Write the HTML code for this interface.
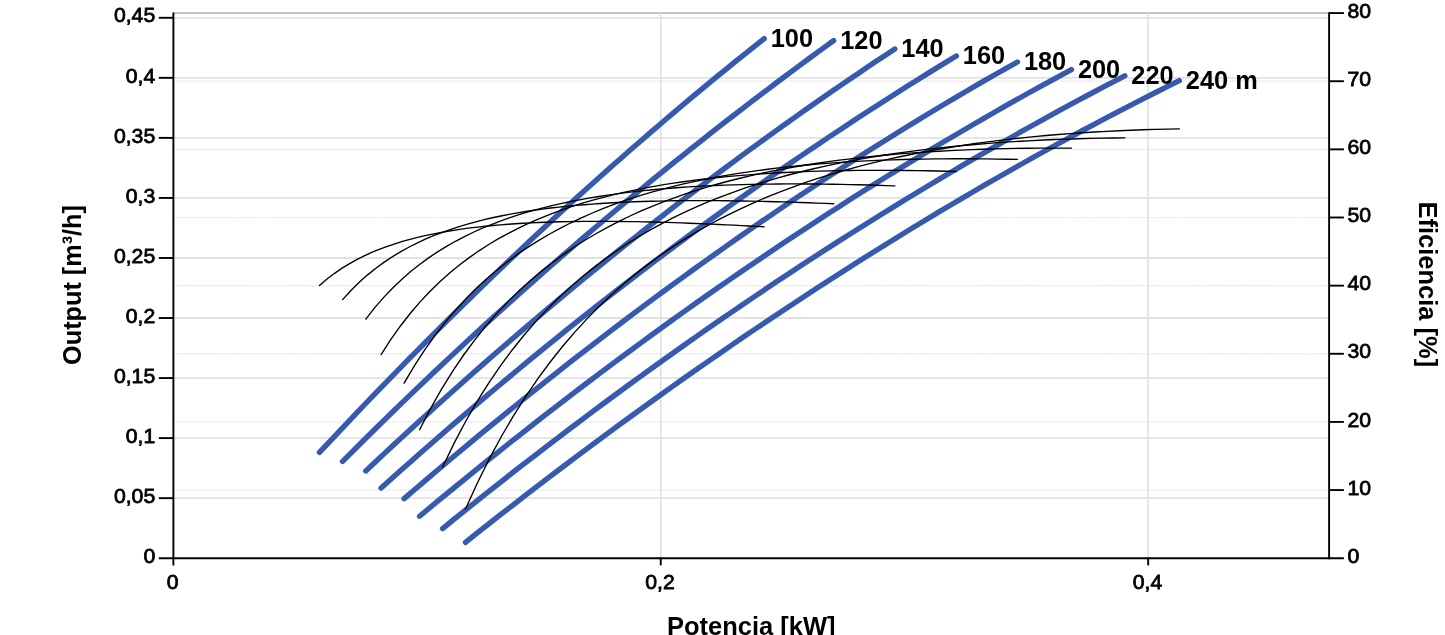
<!DOCTYPE html>
<html lang="es"><head><meta charset="utf-8"><title>Output / Potencia</title>
<style>html,body{margin:0;padding:0;background:#fff;}body{width:1445px;height:635px;overflow:hidden;position:relative;}svg{display:block;position:absolute;left:0;top:0;}text{font-family:"Liberation Sans",sans-serif;fill:#000;}.t{font-size:20.6px;stroke:#000;stroke-width:.75px;}.b{font-size:25px;font-weight:bold;}.blue{fill:none;stroke:#355aaf;stroke-width:5.4;stroke-linecap:round;stroke-linejoin:round;}.blk{fill:none;stroke:#000;stroke-width:1.35;stroke-linecap:round;}</style></head><body>
<svg width="1445" height="635" viewBox="0 0 1445 635">
<rect width="1445" height="635" fill="#fff"/>
<line x1="173.3" y1="12.95" x2="1329.1" y2="12.95" stroke="#b0b0b0" stroke-width="1.5"/>
<g stroke="#e2e2e2" stroke-width="1.8">
<line x1="173.3" y1="498.16" x2="1329.1" y2="498.16"/>
<line x1="173.3" y1="438.11" x2="1329.1" y2="438.11"/>
<line x1="173.3" y1="378.06" x2="1329.1" y2="378.06"/>
<line x1="173.3" y1="318.02" x2="1329.1" y2="318.02"/>
<line x1="173.3" y1="257.98" x2="1329.1" y2="257.98"/>
<line x1="173.3" y1="197.93" x2="1329.1" y2="197.93"/>
<line x1="173.3" y1="137.88" x2="1329.1" y2="137.88"/>
<line x1="173.3" y1="77.84" x2="1329.1" y2="77.84"/>
<line x1="173.3" y1="17.79" x2="1329.1" y2="17.79"/>
<line x1="660.74" y1="13.1" x2="660.74" y2="558.2"/>
<line x1="1148.18" y1="13.1" x2="1148.18" y2="558.2"/>
</g>
<g stroke="#d8d8d8" stroke-width="1.2" stroke-dasharray="1.25 1.48">
<line x1="173.3" y1="490.06" x2="1329.1" y2="490.06"/>
<line x1="173.3" y1="421.92" x2="1329.1" y2="421.92"/>
<line x1="173.3" y1="353.78" x2="1329.1" y2="353.78"/>
<line x1="173.3" y1="285.64" x2="1329.1" y2="285.64"/>
<line x1="173.3" y1="217.5" x2="1329.1" y2="217.5"/>
<line x1="173.3" y1="149.36" x2="1329.1" y2="149.36"/>
<line x1="173.3" y1="81.22" x2="1329.1" y2="81.22"/>
</g>
<g><path class="blue" d="M319.5 452.4 L327.04 444.32 L334.57 436.28 L342.11 428.29 L349.65 420.32 L357.19 412.4 L364.72 404.51 L372.26 396.66 L379.8 388.85 L387.34 381.07 L394.87 373.33 L402.41 365.63 L409.95 357.96 L417.48 350.33 L425.02 342.74 L432.56 335.19 L440.1 327.67 L447.63 320.19 L455.17 312.74 L462.71 305.34 L470.25 297.96 L477.78 290.63 L485.32 283.33 L492.86 276.07 L500.39 268.84 L507.93 261.65 L515.47 254.5 L523.01 247.39 L530.54 240.3 L538.08 233.26 L545.62 226.25 L553.16 219.28 L560.69 212.35 L568.23 205.45 L575.77 198.58 L583.31 191.75 L590.84 184.96 L598.38 178.21 L605.92 171.49 L613.45 164.8 L620.99 158.15 L628.53 151.54 L636.07 144.96 L643.6 138.42 L651.14 131.92 L658.68 125.44 L666.22 119.01 L673.75 112.61 L681.29 106.24 L688.83 99.92 L696.36 93.62 L703.9 87.36 L711.44 81.14 L718.98 74.95 L726.51 68.8 L734.05 62.68 L741.59 56.6 L749.13 50.55 L756.66 44.53 L764.2 38.56"/>
<path class="blue" d="M342.6 461.39 L350.92 453.04 L359.25 444.73 L367.57 436.47 L375.89 428.26 L384.22 420.09 L392.54 411.97 L400.87 403.89 L409.19 395.86 L417.51 387.87 L425.84 379.93 L434.16 372.03 L442.48 364.17 L450.81 356.36 L459.13 348.6 L467.46 340.87 L475.78 333.19 L484.1 325.55 L492.43 317.96 L500.75 310.41 L509.07 302.89 L517.4 295.43 L525.72 288 L534.05 280.61 L542.37 273.27 L550.69 265.97 L559.02 258.71 L567.34 251.48 L575.66 244.3 L583.99 237.16 L592.31 230.06 L600.64 223 L608.96 215.98 L617.28 209 L625.61 202.06 L633.93 195.15 L642.25 188.29 L650.58 181.46 L658.9 174.67 L667.23 167.92 L675.55 161.21 L683.87 154.53 L692.2 147.89 L700.52 141.29 L708.84 134.73 L717.17 128.2 L725.49 121.71 L733.82 115.25 L742.14 108.83 L750.46 102.45 L758.79 96.1 L767.11 89.79 L775.43 83.51 L783.76 77.27 L792.08 71.06 L800.41 64.89 L808.73 58.75 L817.05 52.64 L825.38 46.57 L833.7 40.53"/>
<path class="blue" d="M365.8 470.96 L374.77 462.53 L383.73 454.15 L392.7 445.81 L401.66 437.52 L410.63 429.27 L419.6 421.06 L428.56 412.9 L437.53 404.79 L446.49 396.72 L455.46 388.7 L464.43 380.72 L473.39 372.79 L482.36 364.9 L491.33 357.05 L500.29 349.25 L509.26 341.5 L518.22 333.78 L527.19 326.12 L536.16 318.49 L545.12 310.92 L554.09 303.38 L563.05 295.89 L572.02 288.44 L580.99 281.04 L589.95 273.68 L598.92 266.36 L607.88 259.09 L616.85 251.86 L625.82 244.68 L634.78 237.54 L643.75 230.44 L652.72 223.38 L661.68 216.37 L670.65 209.4 L679.61 202.48 L688.58 195.6 L697.55 188.76 L706.51 181.96 L715.48 175.21 L724.44 168.49 L733.41 161.83 L742.38 155.2 L751.34 148.62 L760.31 142.07 L769.27 135.57 L778.24 129.12 L787.21 122.7 L796.17 116.33 L805.14 110 L814.11 103.71 L823.07 97.47 L832.04 91.26 L841 85.1 L849.97 78.98 L858.94 72.9 L867.9 66.86 L876.87 60.86 L885.83 54.91 L894.8 48.99"/>
<path class="blue" d="M381.1 488.04 L390.85 479.27 L400.6 470.56 L410.35 461.9 L420.1 453.29 L429.85 444.73 L439.59 436.22 L449.34 427.76 L459.09 419.35 L468.84 410.99 L478.59 402.69 L488.34 394.43 L498.09 386.22 L507.84 378.07 L517.59 369.96 L527.34 361.9 L537.09 353.9 L546.84 345.94 L556.58 338.03 L566.33 330.18 L576.08 322.37 L585.83 314.61 L595.58 306.91 L605.33 299.25 L615.08 291.64 L624.83 284.08 L634.58 276.57 L644.33 269.11 L654.08 261.7 L663.83 254.34 L673.57 247.02 L683.32 239.76 L693.07 232.54 L702.82 225.38 L712.57 218.26 L722.32 211.19 L732.07 204.17 L741.82 197.2 L751.57 190.27 L761.32 183.4 L771.07 176.57 L780.82 169.8 L790.56 163.07 L800.31 156.38 L810.06 149.75 L819.81 143.17 L829.56 136.63 L839.31 130.14 L849.06 123.7 L858.81 117.3 L868.56 110.96 L878.31 104.66 L888.06 98.41 L897.81 92.21 L907.55 86.05 L917.3 79.94 L927.05 73.88 L936.8 67.87 L946.55 61.9 L956.3 55.98"/>
<path class="blue" d="M404.1 498.65 L414.49 489.72 L424.89 480.83 L435.28 472 L445.68 463.22 L456.07 454.5 L466.47 445.82 L476.86 437.2 L487.26 428.63 L497.65 420.12 L508.05 411.65 L518.44 403.24 L528.84 394.88 L539.23 386.57 L549.63 378.32 L560.02 370.12 L570.42 361.97 L580.81 353.87 L591.21 345.83 L601.6 337.84 L612 329.9 L622.39 322.01 L632.79 314.18 L643.18 306.4 L653.58 298.67 L663.97 291 L674.37 283.38 L684.76 275.81 L695.16 268.3 L705.55 260.84 L715.95 253.43 L726.34 246.08 L736.74 238.78 L747.13 231.53 L757.53 224.34 L767.92 217.2 L778.32 210.11 L788.71 203.08 L799.11 196.1 L809.5 189.17 L819.9 182.3 L830.29 175.48 L840.69 168.71 L851.08 162 L861.48 155.35 L871.87 148.74 L882.27 142.19 L892.66 135.7 L903.06 129.26 L913.45 122.87 L923.85 116.54 L934.24 110.26 L944.64 104.03 L955.03 97.86 L965.43 91.74 L975.82 85.68 L986.22 79.67 L996.61 73.72 L1007.01 67.82 L1017.4 61.98"/>
<path class="blue" d="M419.6 516.22 L430.65 507.03 L441.69 497.89 L452.74 488.81 L463.79 479.79 L474.84 470.82 L485.88 461.91 L496.93 453.06 L507.98 444.26 L519.03 435.52 L530.07 426.84 L541.12 418.21 L552.17 409.64 L563.22 401.12 L574.26 392.67 L585.31 384.26 L596.36 375.92 L607.41 367.63 L618.45 359.39 L629.5 351.21 L640.55 343.09 L651.6 335.03 L662.64 327.02 L673.69 319.06 L684.74 311.16 L695.79 303.32 L706.83 295.53 L717.88 287.8 L728.93 280.13 L739.98 272.51 L751.02 264.94 L762.07 257.43 L773.12 249.98 L784.17 242.58 L795.21 235.24 L806.26 227.95 L817.31 220.72 L828.36 213.54 L839.4 206.42 L850.45 199.35 L861.5 192.34 L872.55 185.39 L883.59 178.49 L894.64 171.64 L905.69 164.85 L916.74 158.11 L927.78 151.43 L938.83 144.8 L949.88 138.23 L960.93 131.72 L971.97 125.25 L983.02 118.85 L994.07 112.49 L1005.12 106.2 L1016.16 99.95 L1027.21 93.76 L1038.26 87.63 L1049.31 81.55 L1060.35 75.52 L1071.4 69.55"/>
<path class="blue" d="M442.6 528.58 L454.16 519.2 L465.73 509.89 L477.29 500.64 L488.85 491.44 L500.41 482.31 L511.98 473.24 L523.54 464.22 L535.1 455.27 L546.66 446.37 L558.23 437.54 L569.79 428.76 L581.35 420.05 L592.92 411.39 L604.48 402.79 L616.04 394.25 L627.6 385.77 L639.17 377.35 L650.73 368.99 L662.29 360.69 L673.85 352.44 L685.42 344.26 L696.98 336.13 L708.54 328.06 L720.11 320.05 L731.67 312.1 L743.23 304.2 L754.79 296.36 L766.36 288.59 L777.92 280.87 L789.48 273.2 L801.04 265.6 L812.61 258.05 L824.17 250.56 L835.73 243.13 L847.29 235.75 L858.86 228.44 L870.42 221.18 L881.98 213.97 L893.55 206.83 L905.11 199.74 L916.67 192.71 L928.23 185.73 L939.8 178.81 L951.36 171.95 L962.92 165.15 L974.48 158.4 L986.05 151.7 L997.61 145.07 L1009.17 138.49 L1020.74 131.97 L1032.3 125.5 L1043.86 119.09 L1055.42 112.73 L1066.99 106.43 L1078.55 100.19 L1090.11 94 L1101.67 87.86 L1113.24 81.79 L1124.8 75.77"/>
<path class="blue" d="M465.5 542.33 L477.6 532.73 L489.7 523.2 L501.79 513.73 L513.89 504.32 L525.99 494.96 L538.09 485.67 L550.19 476.43 L562.29 467.26 L574.38 458.14 L586.48 449.08 L598.58 440.09 L610.68 431.15 L622.78 422.28 L634.88 413.46 L646.97 404.71 L659.07 396.01 L671.17 387.38 L683.27 378.81 L695.37 370.29 L707.47 361.84 L719.56 353.45 L731.66 345.12 L743.76 336.85 L755.86 328.64 L767.96 320.5 L780.06 312.41 L792.15 304.39 L804.25 296.43 L816.35 288.53 L828.45 280.69 L840.55 272.91 L852.65 265.2 L864.74 257.54 L876.84 249.95 L888.94 242.42 L901.04 234.96 L913.14 227.55 L925.24 220.21 L937.33 212.93 L949.43 205.72 L961.53 198.56 L973.63 191.47 L985.73 184.44 L997.83 177.48 L1009.92 170.58 L1022.02 163.74 L1034.12 156.97 L1046.22 150.25 L1058.32 143.61 L1070.42 137.02 L1082.51 130.5 L1094.61 124.04 L1106.71 117.65 L1118.81 111.32 L1130.91 105.06 L1143.01 98.86 L1155.1 92.72 L1167.2 86.65 L1179.3 80.64"/></g>
<g><path class="blk" d="M319.5 285.49 L327.04 279.07 L334.57 273.33 L342.11 268.19 L349.65 263.57 L357.19 259.41 L364.72 255.65 L372.26 252.24 L379.8 249.15 L387.34 246.34 L394.87 243.79 L402.41 241.46 L409.95 239.34 L417.48 237.41 L425.02 235.65 L432.56 234.05 L440.1 232.59 L447.63 231.26 L455.17 230.05 L462.71 228.95 L470.25 227.95 L477.78 227.05 L485.32 226.23 L492.86 225.5 L500.39 224.84 L507.93 224.25 L515.47 223.73 L523.01 223.27 L530.54 222.87 L538.08 222.52 L545.62 222.23 L553.16 221.98 L560.69 221.77 L568.23 221.61 L575.77 221.48 L583.31 221.4 L590.84 221.35 L598.38 221.33 L605.92 221.35 L613.45 221.39 L620.99 221.47 L628.53 221.57 L636.07 221.7 L643.6 221.85 L651.14 222.02 L658.68 222.22 L666.22 222.44 L673.75 222.67 L681.29 222.93 L688.83 223.21 L696.36 223.5 L703.9 223.81 L711.44 224.13 L718.98 224.47 L726.51 224.83 L734.05 225.2 L741.59 225.58 L749.13 225.98 L756.66 226.39 L764.2 226.81"/>
<path class="blk" d="M342.6 299.62 L350.92 290.47 L359.25 282.26 L367.57 274.86 L375.89 268.17 L384.22 262.1 L392.54 256.59 L400.87 251.57 L409.19 246.99 L417.51 242.81 L425.84 238.98 L434.16 235.47 L442.48 232.26 L450.81 229.3 L459.13 226.59 L467.46 224.1 L475.78 221.81 L484.1 219.71 L492.43 217.78 L500.75 216 L509.07 214.37 L517.4 212.87 L525.72 211.5 L534.05 210.24 L542.37 209.09 L550.69 208.04 L559.02 207.08 L567.34 206.21 L575.66 205.42 L583.99 204.71 L592.31 204.07 L600.64 203.5 L608.96 202.99 L617.28 202.53 L625.61 202.14 L633.93 201.79 L642.25 201.5 L650.58 201.25 L658.9 201.05 L667.23 200.89 L675.55 200.77 L683.87 200.68 L692.2 200.63 L700.52 200.61 L708.84 200.63 L717.17 200.67 L725.49 200.75 L733.82 200.85 L742.14 200.97 L750.46 201.12 L758.79 201.3 L767.11 201.49 L775.43 201.71 L783.76 201.94 L792.08 202.2 L800.41 202.47 L808.73 202.76 L817.05 203.07 L825.38 203.39 L833.7 203.73"/>
<path class="blk" d="M365.8 319.11 L374.77 307.68 L383.73 297.33 L392.7 287.94 L401.66 279.39 L410.63 271.59 L419.6 264.45 L428.56 257.91 L437.53 251.9 L446.49 246.37 L455.46 241.28 L464.43 236.58 L473.39 232.24 L482.36 228.23 L491.33 224.52 L500.29 221.08 L509.26 217.9 L518.22 214.95 L527.19 212.22 L536.16 209.68 L545.12 207.33 L554.09 205.16 L563.05 203.14 L572.02 201.27 L580.99 199.54 L589.95 197.94 L598.92 196.46 L607.88 195.09 L616.85 193.84 L625.82 192.68 L634.78 191.62 L643.75 190.64 L652.72 189.75 L661.68 188.94 L670.65 188.21 L679.61 187.54 L688.58 186.95 L697.55 186.41 L706.51 185.94 L715.48 185.52 L724.44 185.16 L733.41 184.85 L742.38 184.59 L751.34 184.38 L760.31 184.21 L769.27 184.08 L778.24 184 L787.21 183.95 L796.17 183.94 L805.14 183.96 L814.11 184.02 L823.07 184.11 L832.04 184.24 L841 184.39 L849.97 184.57 L858.94 184.78 L867.9 185.01 L876.87 185.27 L885.83 185.55 L894.8 185.86"/>
<path class="blk" d="M381.1 354.62 L390.85 339.46 L400.6 325.73 L410.35 313.26 L420.1 301.9 L429.85 291.52 L439.59 282.01 L449.34 273.29 L459.09 265.27 L468.84 257.88 L478.59 251.07 L488.34 244.77 L498.09 238.94 L507.84 233.55 L517.59 228.54 L527.34 223.9 L537.09 219.59 L546.84 215.58 L556.58 211.86 L566.33 208.4 L576.08 205.18 L585.83 202.19 L595.58 199.4 L605.33 196.81 L615.08 194.4 L624.83 192.16 L634.58 190.08 L644.33 188.15 L654.08 186.36 L663.83 184.7 L673.57 183.16 L683.32 181.75 L693.07 180.44 L702.82 179.23 L712.57 178.12 L722.32 177.11 L732.07 176.18 L741.82 175.34 L751.57 174.58 L761.32 173.89 L771.07 173.27 L780.82 172.72 L790.56 172.24 L800.31 171.81 L810.06 171.45 L819.81 171.14 L829.56 170.88 L839.31 170.68 L849.06 170.52 L858.81 170.41 L868.56 170.34 L878.31 170.32 L888.06 170.34 L897.81 170.4 L907.55 170.49 L917.3 170.62 L927.05 170.79 L936.8 170.98 L946.55 171.21 L956.3 171.47"/>
<path class="blk" d="M404.1 383.19 L414.49 365.61 L424.89 349.62 L435.28 335.03 L445.68 321.68 L456.07 309.44 L466.47 298.2 L476.86 287.83 L487.26 278.27 L497.65 269.43 L508.05 261.25 L518.44 253.66 L528.84 246.61 L539.23 240.07 L549.63 233.97 L560.02 228.3 L570.42 223.02 L580.81 218.09 L591.21 213.5 L601.6 209.21 L612 205.2 L622.39 201.46 L632.79 197.97 L643.18 194.71 L653.58 191.67 L663.97 188.82 L674.37 186.17 L684.76 183.7 L695.16 181.39 L705.55 179.24 L715.95 177.24 L726.34 175.38 L736.74 173.66 L747.13 172.06 L757.53 170.57 L767.92 169.21 L778.32 167.94 L788.71 166.78 L799.11 165.72 L809.5 164.75 L819.9 163.86 L830.29 163.06 L840.69 162.34 L851.08 161.7 L861.48 161.12 L871.87 160.62 L882.27 160.18 L892.66 159.81 L903.06 159.5 L913.45 159.24 L923.85 159.05 L934.24 158.9 L944.64 158.81 L955.03 158.76 L965.43 158.77 L975.82 158.82 L986.22 158.91 L996.61 159.05 L1007.01 159.23 L1017.4 159.44"/>
<path class="blk" d="M419.6 429.74 L430.65 408.33 L441.69 388.85 L452.74 371.05 L463.79 354.76 L474.84 339.8 L485.88 326.04 L496.93 313.35 L507.98 301.62 L519.03 290.77 L530.07 280.7 L541.12 271.36 L552.17 262.67 L563.22 254.59 L574.26 247.05 L585.31 240.03 L596.36 233.47 L607.41 227.34 L618.45 221.61 L629.5 216.25 L640.55 211.23 L651.6 206.54 L662.64 202.14 L673.69 198.02 L684.74 194.16 L695.79 190.54 L706.83 187.16 L717.88 183.98 L728.93 181.01 L739.98 178.23 L751.02 175.63 L762.07 173.19 L773.12 170.92 L784.17 168.8 L795.21 166.81 L806.26 164.97 L817.31 163.25 L828.36 161.65 L839.4 160.17 L850.45 158.8 L861.5 157.53 L872.55 156.37 L883.59 155.29 L894.64 154.31 L905.69 153.42 L916.74 152.6 L927.78 151.87 L938.83 151.21 L949.88 150.62 L960.93 150.1 L971.97 149.65 L983.02 149.26 L994.07 148.93 L1005.12 148.66 L1016.16 148.44 L1027.21 148.28 L1038.26 148.17 L1049.31 148.11 L1060.35 148.1 L1071.4 148.13"/>
<path class="blk" d="M442.6 467.01 L454.16 443.09 L465.73 421.24 L477.29 401.21 L488.85 382.81 L500.41 365.86 L511.98 350.22 L523.54 335.75 L535.1 322.34 L546.66 309.89 L558.23 298.32 L569.79 287.55 L581.35 277.51 L592.92 268.14 L604.48 259.39 L616.04 251.21 L627.6 243.54 L639.17 236.37 L650.73 229.64 L662.29 223.33 L673.85 217.41 L685.42 211.86 L696.98 206.64 L708.54 201.73 L720.11 197.12 L731.67 192.79 L743.23 188.72 L754.79 184.9 L766.36 181.3 L777.92 177.92 L789.48 174.75 L801.04 171.77 L812.61 168.97 L824.17 166.35 L835.73 163.89 L847.29 161.58 L858.86 159.42 L870.42 157.4 L881.98 155.51 L893.55 153.75 L905.11 152.11 L916.67 150.59 L928.23 149.17 L939.8 147.86 L951.36 146.64 L962.92 145.52 L974.48 144.5 L986.05 143.56 L997.61 142.7 L1009.17 141.92 L1020.74 141.22 L1032.3 140.59 L1043.86 140.03 L1055.42 139.54 L1066.99 139.11 L1078.55 138.74 L1090.11 138.44 L1101.67 138.19 L1113.24 138 L1124.8 137.86"/>
<path class="blk" d="M465.5 509.07 L477.6 482.51 L489.7 458.16 L501.79 435.76 L513.89 415.12 L525.99 396.04 L538.09 378.37 L550.19 361.98 L562.29 346.75 L574.38 332.58 L586.48 319.36 L598.58 307.02 L610.68 295.49 L622.78 284.71 L634.88 274.6 L646.97 265.13 L659.07 256.24 L671.17 247.89 L683.27 240.05 L695.37 232.68 L707.47 225.74 L719.56 219.21 L731.66 213.06 L743.76 207.27 L755.86 201.82 L767.96 196.68 L780.06 191.84 L792.15 187.27 L804.25 182.97 L816.35 178.92 L828.45 175.1 L840.55 171.51 L852.65 168.13 L864.74 164.94 L876.84 161.94 L888.94 159.13 L901.04 156.49 L913.14 154 L925.24 151.68 L937.33 149.5 L949.43 147.46 L961.53 145.56 L973.63 143.78 L985.73 142.13 L997.83 140.6 L1009.92 139.17 L1022.02 137.86 L1034.12 136.65 L1046.22 135.54 L1058.32 134.52 L1070.42 133.6 L1082.51 132.76 L1094.61 132.01 L1106.71 131.34 L1118.81 130.75 L1130.91 130.23 L1143.01 129.79 L1155.1 129.41 L1167.2 129.11 L1179.3 128.87"/></g>
<g stroke="#000" stroke-width="1.9" fill="none">
<line x1="173.4" y1="12.4" x2="173.4" y2="565.4"/>
<line x1="1329.1" y1="12.2" x2="1329.1" y2="559.2"/>
<line x1="158.8" y1="558.2" x2="1343.9" y2="558.2"/>
<line x1="158.8" y1="498.16" x2="173.3" y2="498.16"/>
<line x1="158.8" y1="438.11" x2="173.3" y2="438.11"/>
<line x1="158.8" y1="378.06" x2="173.3" y2="378.06"/>
<line x1="158.8" y1="318.02" x2="173.3" y2="318.02"/>
<line x1="158.8" y1="257.98" x2="173.3" y2="257.98"/>
<line x1="158.8" y1="197.93" x2="173.3" y2="197.93"/>
<line x1="158.8" y1="137.88" x2="173.3" y2="137.88"/>
<line x1="158.8" y1="77.84" x2="173.3" y2="77.84"/>
<line x1="158.8" y1="17.79" x2="173.3" y2="17.79"/>
<line x1="1329.1" y1="490.06" x2="1343.9" y2="490.06"/>
<line x1="1329.1" y1="421.92" x2="1343.9" y2="421.92"/>
<line x1="1329.1" y1="353.78" x2="1343.9" y2="353.78"/>
<line x1="1329.1" y1="285.64" x2="1343.9" y2="285.64"/>
<line x1="1329.1" y1="217.5" x2="1343.9" y2="217.5"/>
<line x1="1329.1" y1="149.36" x2="1343.9" y2="149.36"/>
<line x1="1329.1" y1="81.22" x2="1343.9" y2="81.22"/>
<line x1="1329.1" y1="13.08" x2="1343.9" y2="13.08"/>
<line x1="660.74" y1="558.2" x2="660.74" y2="565.4"/>
<line x1="1148.18" y1="558.2" x2="1148.18" y2="565.4"/>
</g>
<text class="t" transform="translate(155.2 562.9) scale(1.03 1)" text-anchor="end">0</text>
<text class="t" transform="translate(155.2 502.86) scale(1.03 1)" text-anchor="end">0,05</text>
<text class="t" transform="translate(155.2 442.81) scale(1.03 1)" text-anchor="end">0,1</text>
<text class="t" transform="translate(155.2 382.76) scale(1.03 1)" text-anchor="end">0,15</text>
<text class="t" transform="translate(155.2 322.72) scale(1.03 1)" text-anchor="end">0,2</text>
<text class="t" transform="translate(155.2 262.68) scale(1.03 1)" text-anchor="end">0,25</text>
<text class="t" transform="translate(155.2 202.63) scale(1.03 1)" text-anchor="end">0,3</text>
<text class="t" transform="translate(155.2 142.58) scale(1.03 1)" text-anchor="end">0,35</text>
<text class="t" transform="translate(155.2 82.54) scale(1.03 1)" text-anchor="end">0,4</text>
<text class="t" transform="translate(155.2 22.49) scale(1.03 1)" text-anchor="end">0,45</text>
<text class="t" transform="translate(1347.5 562.9) scale(1.03 1)" text-anchor="start">0</text>
<text class="t" transform="translate(1347.5 494.76) scale(1.03 1)" text-anchor="start">10</text>
<text class="t" transform="translate(1347.5 426.62) scale(1.03 1)" text-anchor="start">20</text>
<text class="t" transform="translate(1347.5 358.48) scale(1.03 1)" text-anchor="start">30</text>
<text class="t" transform="translate(1347.5 290.34) scale(1.03 1)" text-anchor="start">40</text>
<text class="t" transform="translate(1347.5 222.2) scale(1.03 1)" text-anchor="start">50</text>
<text class="t" transform="translate(1347.5 154.06) scale(1.03 1)" text-anchor="start">60</text>
<text class="t" transform="translate(1347.5 85.92) scale(1.03 1)" text-anchor="start">70</text>
<text class="t" transform="translate(1347.5 17.78) scale(1.03 1)" text-anchor="start">80</text>
<text class="t" transform="translate(172.6 589.4) scale(1.03 1)" text-anchor="middle">0</text>
<text class="t" transform="translate(660.04 589.4) scale(1.03 1)" text-anchor="middle">0,2</text>
<text class="t" transform="translate(1147.48 589.4) scale(1.03 1)" text-anchor="middle">0,4</text>
<text class="b" transform="translate(770.7 46.56) scale(1.015 1)" text-anchor="start">100</text>
<text class="b" transform="translate(840.2 48.53) scale(1.015 1)" text-anchor="start">120</text>
<text class="b" transform="translate(901.3 56.99) scale(1.015 1)" text-anchor="start">140</text>
<text class="b" transform="translate(962.8 63.98) scale(1.015 1)" text-anchor="start">160</text>
<text class="b" transform="translate(1023.9 69.98) scale(1.015 1)" text-anchor="start">180</text>
<text class="b" transform="translate(1077.9 77.55) scale(1.015 1)" text-anchor="start">200</text>
<text class="b" transform="translate(1131.3 83.77) scale(1.015 1)" text-anchor="start">220</text>
<text class="b" transform="translate(1185.8 88.64) scale(1.015 1)" text-anchor="start">240 m</text>
<text class="b" transform="translate(751.3 635.2) scale(1.02 1)" text-anchor="middle">Potencia [kW]</text>
<text class="b" transform="translate(81 285) rotate(-90) scale(1.01 1)" text-anchor="middle">Output [m³/h]</text>
<text class="b" transform="translate(1419 284.3) rotate(90) scale(1.02 1)" text-anchor="middle">Eficiencia [%]</text>
</svg></body></html>
